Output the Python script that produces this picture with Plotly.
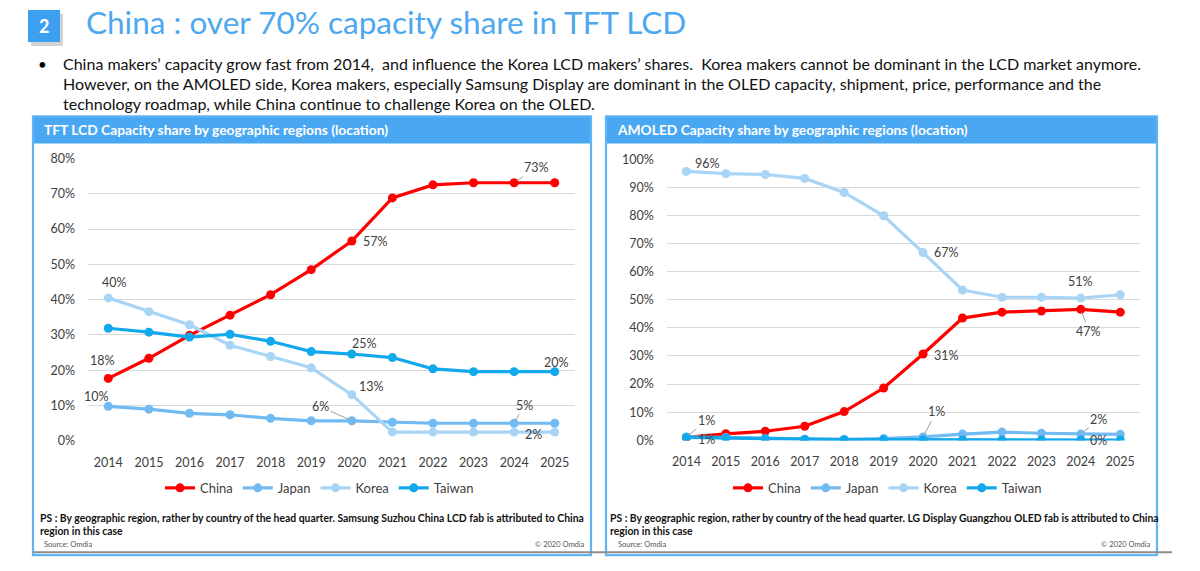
import plotly.graph_objects as go

# ---------------- data ----------------
years = list(range(2014, 2026))
series_names = ["China", "Japan", "Korea", "Taiwan"]

lcd_china = [17.7, 23.4, 29.9, 35.6, 41.4, 48.5, 56.6, 68.8, 72.5, 73.1, 73.1, 73.1]
lcd_japan = [9.8, 9.0, 7.8, 7.4, 6.4, 5.7, 5.7, 5.3, 5.0, 5.0, 5.0, 5.0]
lcd_korea = [40.5, 36.6, 32.9, 27.1, 23.9, 20.7, 13.1, 2.5, 2.5, 2.5, 2.5, 2.5]
lcd_taiwan = [31.9, 30.8, 29.4, 30.2, 28.2, 25.3, 24.6, 23.6, 20.4, 19.6, 19.6, 19.6]

oled_china = [1.0, 2.3, 3.2, 5.0, 10.2, 18.6, 30.7, 43.5, 45.6, 46.0, 46.6, 45.6]
oled_japan = [1.2, 1.0, 0.6, 0.4, 0.3, 0.6, 1.2, 2.2, 2.9, 2.5, 2.2, 2.1]
oled_korea = [95.7, 94.9, 94.6, 93.2, 88.2, 79.9, 66.8, 53.5, 50.9, 50.9, 50.6, 51.8]
oled_taiwan = [1.0, 0.8, 0.5, 0.3, 0.2, 0.2, 0.2, 0.1, 0.1, 0.1, 0.1, 0.1]

lcd_ticks = [0, 10, 20, 30, 40, 50, 60, 70, 80]
oled_ticks = [0, 10, 20, 30, 40, 50, 60, 70, 80, 90, 100]

title_text = "China : over 70% capacity share in TFT LCD"
bullet_lines = [
    "China makers\u2019 capacity grow fast from 2014,  and influence the Korea LCD makers\u2019 shares.  Korea makers cannot be dominant in the LCD market anymore.",
    "However, on the AMOLED side, Korea makers, especially Samsung Display are dominant in the OLED capacity, shipment, price, performance and the",
    "technology roadmap, while China continue to challenge Korea on the OLED.",
]
lcd_header = "TFT LCD Capacity share by geographic regions (location)"
oled_header = "AMOLED Capacity share by geographic regions (location)"
lcd_note = ["PS : By geographic region, rather by country of the head quarter. Samsung Suzhou China LCD fab is attributed to China",
            "region in this case"]
oled_note = ["PS : By geographic region, rather by country of the head quarter. LG Display Guangzhou OLED fab is attributed to China",
             "region in this case"]

# ---------------- styling ----------------
W, H = 1200, 571
FONT = "Lato, 'Open Sans', sans-serif"
colors = {"China": "#ff0000", "Japan": "#72baf2", "Korea": "#a8d4f6", "Taiwan": "#12a8ec"}
TXT = "#404040"


def px(x):
    return x / W


def py(y):
    return 1 - y / H


fig = go.Figure()

lcd_data = {"China": lcd_china, "Japan": lcd_japan, "Korea": lcd_korea, "Taiwan": lcd_taiwan}
oled_data = {"China": oled_china, "Japan": oled_japan, "Korea": oled_korea, "Taiwan": oled_taiwan}

for name in series_names:
    fig.add_trace(go.Scatter(
        x=years, y=lcd_data[name], name=name, mode="lines+markers",
        line=dict(color=colors[name], width=3.2),
        marker=dict(color=colors[name], size=9),
        xaxis="x", yaxis="y", legend="legend", hoverinfo="skip"))
for name in series_names:
    fig.add_trace(go.Scatter(
        x=years, y=oled_data[name], name=name, mode="lines+markers",
        line=dict(color=colors[name], width=3.2),
        marker=dict(color=colors[name], size=9),
        xaxis="x2", yaxis="y2", legend="legend2", hoverinfo="skip"))

axis_font = dict(family=FONT, size=12.5, color=TXT)
common_x = dict(tickmode="array", tickvals=years, ticktext=[str(y) for y in years],
                range=[2013.5, 2025.5], showgrid=False, zeroline=False, showline=False,
                ticks="", tickfont=axis_font, ticklabelstandoff=12, fixedrange=True)
common_y = dict(tickmode="array", showgrid=True, gridcolor="#d9d9d9", gridwidth=1, zeroline=False,
                showline=False, ticks="", tickfont=axis_font,
                ticklabelstandoff=12, fixedrange=True)

fig.update_layout(
    width=W, height=H, margin=dict(l=0, r=0, t=0, b=0),
    paper_bgcolor="white", plot_bgcolor="rgba(0,0,0,0)",
    font=dict(family=FONT, color=TXT),
    xaxis=dict(domain=[px(88), px(575)], anchor="y", **common_x),
    yaxis=dict(domain=[py(445), py(155)], anchor="x", range=[-0.05, 80.05],
               tickvals=lcd_ticks, ticktext=[f"{t}%" for t in lcd_ticks], **common_y),
    xaxis2=dict(domain=[px(666.7), px(1140)], anchor="y2", **common_x),
    yaxis2=dict(domain=[py(444.3), py(156)], anchor="x2", range=[-0.05, 100.05],
                tickvals=oled_ticks, ticktext=[f"{t}%" for t in oled_ticks], **common_y),
    legend=dict(orientation="h", x=px(160), y=py(493), xanchor="left", yanchor="middle",
                font=dict(family=FONT, size=13, color=TXT), bgcolor="rgba(0,0,0,0)",
                itemclick=False, itemdoubleclick=False),
    legend2=dict(orientation="h", x=px(728), y=py(493), xanchor="left", yanchor="middle",
                 font=dict(family=FONT, size=13, color=TXT), bgcolor="rgba(0,0,0,0)",
                 itemclick=False, itemdoubleclick=False),
    showlegend=True,
)

shapes = []
# title square + shadow
shapes.append(dict(type="rect", xref="paper", yref="paper", x0=px(31), x1=px(63), y0=py(40), y1=py(7),
                   fillcolor="#d4d4d4", line=dict(width=0), layer="below"))
shapes.append(dict(type="rect", xref="paper", yref="paper", x0=px(28), x1=px(60), y0=py(36), y1=py(3),
                   fillcolor="#3d9ff0", line=dict(width=0)))
# panels
for (x0, x1) in [(33, 591), (606, 1157)]:
    shapes.append(dict(type="rect", xref="paper", yref="paper", x0=px(x0), x1=px(x1), y0=py(140), y1=py(112),
                       fillcolor="#4aa8f2", line=dict(width=0), layer="below"))
    shapes.append(dict(type="rect", xref="paper", yref="paper", x0=px(x0), x1=px(x1), y0=py(562), y1=py(112),
                       fillcolor="rgba(0,0,0,0)", line=dict(color="#62b4f2", width=2.2), layer="below"))
# gray rule at bottom
shapes.append(dict(type="line", xref="paper", yref="paper", x0=px(33), x1=px(1172), y0=py(559), y1=py(559),
                   line=dict(color="#8c8c8c", width=2)))
fig.update_layout(shapes=shapes)

ann = []


def text_ann(x, y, text, size, color=TXT, bold=False, xanchor="left", family=FONT):
    t = f"<b>{text}</b>" if bold else text
    ann.append(dict(xref="paper", yref="paper", x=px(x), y=py(y), text=t, showarrow=False,
                    xanchor=xanchor, yanchor="middle", font=dict(family=family, size=size, color=color)))


# title
text_ann(44, 19, "2", 18, color="white", bold=True, xanchor="center")
text_ann(84, 15, title_text, 31.5, color="#4ea8ef")
# bullet text
text_ann(36, 58, "\u2022", 15, color="#000000")
for i, line in enumerate(bullet_lines):
    text_ann(61, 58 + i * 20.5, line, 16, color="#111111")
# headers
text_ann(42, 126, lcd_header, 13.8, color="white", bold=True)
text_ann(615, 126, oled_header, 13.8, color="white", bold=True)
# notes
for i, line in enumerate(lcd_note):
    text_ann(38, 524 + i * 13, line, 10.4, color="#111111", bold=True)
for i, line in enumerate(oled_note):
    text_ann(608, 524 + i * 13, line, 10.4, color="#111111", bold=True)
text_ann(42, 551, "Source: Omdia", 7.5, color="#555555")
text_ann(587, 551, "\u00a9 2020 Omdia", 7.5, color="#555555", xanchor="right")
text_ann(616, 551, "Source: Omdia", 7.5, color="#555555")
text_ann(1153, 551, "\u00a9 2020 Omdia", 7.5, color="#555555", xanchor="right")

# data labels: (axis suffix, series dict, series name, year, dx, dy, leader)
label_specs = [
    ("", lcd_data, "China", 2014, -6, 18, False),
    ("", lcd_data, "China", 2020, 24, 0, False),
    ("", lcd_data, "China", 2024, 22, -15, True),
    ("", lcd_data, "Korea", 2014, 6, 15, False),
    ("", lcd_data, "Korea", 2020, 20, 8, False),
    ("", lcd_data, "Korea", 2024, 19, -2, False),
    ("", lcd_data, "Japan", 2014, -12, 10, False),
    ("", lcd_data, "Japan", 2020, -31, -14, True),
    ("", lcd_data, "Japan", 2024, 10, -18, True),
    ("", lcd_data, "Taiwan", 2020, 13, 11, False),
    ("", lcd_data, "Taiwan", 2025, 2, 9, False),
    ("2", oled_data, "Korea", 2014, 21, 8, False),
    ("2", oled_data, "Korea", 2020, 23, 0, False),
    ("2", oled_data, "Korea", 2024, 0, 17, False),
    ("2", oled_data, "China", 2014, 20, -2, False),
    ("2", oled_data, "China", 2020, 23, -1, False),
    ("2", oled_data, "China", 2024, 8, 22, True),
    ("2", oled_data, "Japan", 2014, 20, -16, True),
    ("2", oled_data, "Japan", 2020, 13, -25, True),
    ("2", oled_data, "Japan", 2024, 18, -15, True),
    ("2", oled_data, "Taiwan", 2024, 18, -1, False),
]
for suf, data, name, yr, dx, dy, leader in label_specs:
    v = data[name][years.index(yr)]
    txt = f"{round(v)}%"
    base = dict(xref="x" + suf, yref="y" + suf, x=yr, y=v, text=txt,
                font=dict(family=FONT, size=12.5, color=TXT))
    if leader:
        base.update(showarrow=True, ax=dx, ay=dy, arrowhead=0, arrowwidth=1,
                    arrowcolor="#a0a0a0", standoff=3)
    else:
        base.update(showarrow=False, xshift=dx, yshift=dy)
    ann.append(base)

fig.update_layout(annotations=ann)
fig.write_html("out.html")
